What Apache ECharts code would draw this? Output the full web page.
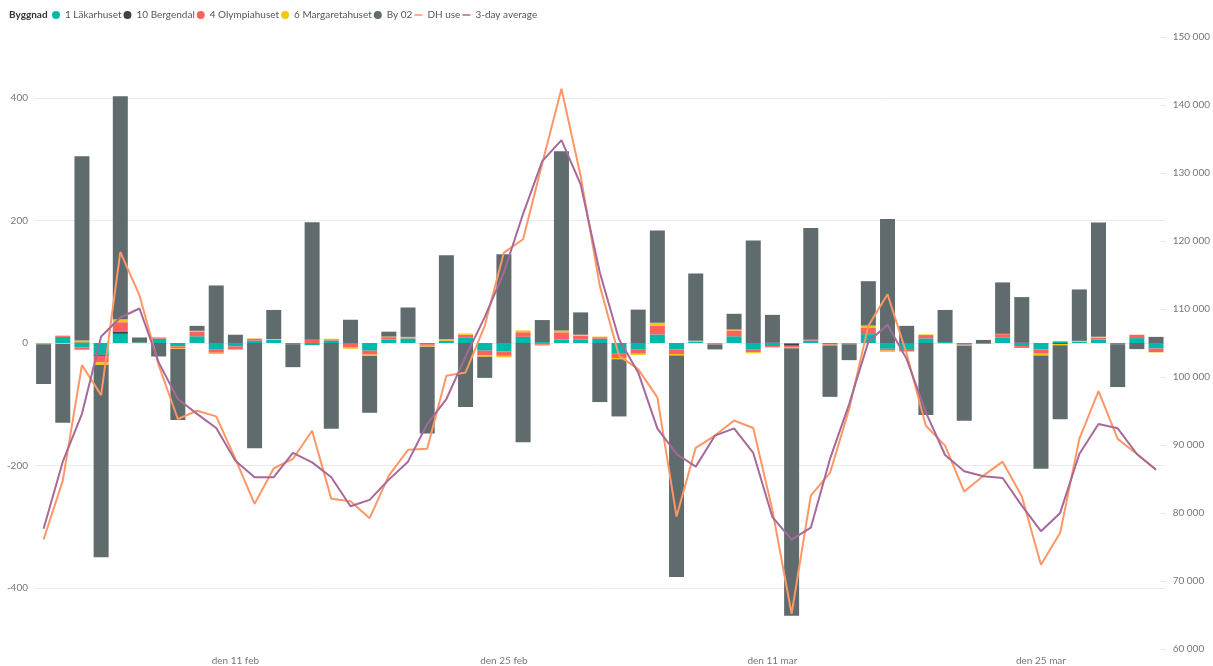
<!DOCTYPE html>
<html>
<head>
<meta charset="utf-8">
<script src="https://cdn.jsdelivr.net/npm/echarts@6/dist/echarts.min.js"></script>
<style>
  html, body { margin: 0; padding: 0; background: #fff; }
  #chart { width: 1213px; height: 666px; }
</style>
</head>
<body>
<div id="chart"></div>
<script>
// days, 1 feb .. 31 mar
var days = [];
[['feb', 28], ['mar', 31]].forEach(function (m) {
    for (var d = 1; d <= m[1]; d++) days.push('den ' + d + ' ' + m[0]);
});
var tickDays = ['den 11 feb', 'den 25 feb', 'den 11 mar', 'den 25 mar'];

var lakarhuset = [-1, 10, -7, -19, 15, 1, 7, -5.5, 11, -11, -5.5, 4, 5, -2, -3.5, 4, -1.5, -12.5, 5.5, 7.5,
    -2, 2.5, 8.5, -12.5, -14, 10, 1.5, 5.5, 6, 7, -16.5, -10, 14, -10.5, 2, -1, 11, -11, -5, -1,
    4, -2, 0, 14.5, -9.5, -9.8, 7.6, 1.5, -2.5, 0, 8.5, -5, -10.3, 2.7, 2, 5.4, -2, 8, -9];
var bergendal = [0, 0, 1, -2, 3, 0, 0, 0, 0, 0, 0, 0, 0, 0, 0, 0, 0, 0, 0, 0,
    0, 1, 0, 0, 0, 0, 0, 0, 0, 0, 0, 0, 0, 0, 0, 0, 0, 0, 1, -3.5,
    0, 0, 0, 0, 0, 0, 0, 0, 0, 0, 0, 1, 0, -1.5, 0, 0, 0, 0, 0];
var olympiahuset = [0, 2, -4, -11, 16, 0, 2, -3.5, 7, -5, -4.5, 3, 0, 0, 5, 2, -6, -6.5, 4, 0.5,
    -2.5, 0.5, 5, -8, -7, 7.6, -3, 12, 6, 2.5, -8, -7.5, 14.5, -7.5, 0.5, -1.5, 9.5, -4, -2, -2,
    1, -1, -1.5, 10, -3, -4, 5.4, 0, -2, -1.5, 6, -3, -7.3, 0, 0.5, 3.3, 0, 5.5, -6];
var margaretahuset = [-1, -1.5, 3, -4, 5, 0, 0.5, -1, 2, -2, -1.5, 0.5, 1.5, 0, 0.5, 1, -2, -2, 1, 2,
    -1.5, 2, 2, -2, -2.5, 3, -1.5, 3, 1.5, 1, -2, -2, 4.5, -2.5, 1, 0, 1.5, -2, 0, -2,
    0.5, -1, -0.5, 4, -2, -1, 1, -1, -0.5, 0, 0.5, 0, -2.7, -2, 1, 1.6, 0, 0, -0.5];
var by02 = [-65, -129, 301, -314, 364, 8, -22, -116, 8, 94, 13.5, -172, 47.5, -37.5, 192, -140, 38, -93, 8, 48,
    -142, 137.5, -104.6, -34.5, 145, -162, 36, 293, 36.5, -96.5, -93.5, 54.5, 151, -362, 110, -8, 25.7, 167.5, 45, -437,
    182.5, -84, -26, 72.5, 202.7, 28, -117.7, 52.5, -122, 5, 84, 74, -185, -121, 84, 186.7, -70, -10, 10];

var dhUse = [76100, 84760, 101750, 97340, 118380, 112000, 101750, 93820, 95040, 94210,
    87950, 81340, 86580, 87950, 92100, 82080, 81730, 79240, 85490, 89290,
    89440, 100180, 100670, 107520, 118300, 120250, 131430, 142380, 129570, 113400,
    103110, 101160, 97000, 79470, 89590, 91390, 93600, 92500, 80400, 65180,
    82560, 85890, 95300, 107520, 112170, 103370, 92840, 89900, 83150, 85490,
    87550, 82470, 72380, 77080, 90900, 97930, 90900, 88680, 86370];
var avg3 = [77670, 87550, 94580, 105960, 108750, 110070, 102150, 96760, 94580, 92500,
    87700, 85260, 85260, 88830, 87450, 85260, 81000, 81930, 84910, 87550,
    93080, 96760, 103000, 108800, 115400, 124000, 131750, 134830, 128330, 115360,
    105560, 100670, 92450, 88680, 86820, 91370, 92450, 88830, 79380, 76090,
    77840, 87950, 96020, 105170, 107670, 102630, 94800, 88530, 86140, 85400,
    85150, 81090, 77330, 80010, 88680, 93080, 92450, 88680, 86370];

var barSeries = [
    ['1 Läkarhuset', lakarhuset, '#01B8AA'],
    ['10 Bergendal', bergendal, '#374649'],
    ['4 Olympiahuset', olympiahuset, '#FD625E'],
    ['6 Margaretahuset', margaretahuset, '#F2C80F'],
    ['By 02', by02, '#5F6B6D']
];
var lineSeries = [
    ['DH use', dhUse, '#FE9666'],
    ['3-day average', avg3, '#A66999']
];

var font = '"Segoe UI", Lato, sans-serif';
var chart = echarts.init(document.getElementById('chart'));

var series = [];
barSeries.forEach(function (b) {
    series.push({
        name: b[0], type: 'bar', stack: 'bygg', data: b[1],
        barWidth: 15, itemStyle: { color: b[2] }
    });
});
lineSeries.forEach(function (l) {
    series.push({
        name: l[0], type: 'line', yAxisIndex: 1, data: l[1],
        symbol: 'none', lineStyle: { color: l[2], width: 2 }, itemStyle: { color: l[2] }, z: 5
    });
});

// short horizontal stroke as legend icon for the lines
var lineIcon = 'path://M0,0H16V3H0Z';
var legendData = barSeries.map(function (b) { return { name: b[0], icon: 'circle' }; })
    .concat(lineSeries.map(function (l) { return { name: l[0], icon: lineIcon }; }));

chart.setOption({
    animation: false,
    textStyle: { fontFamily: font },
    title: {
        text: 'Byggnad', left: 9, top: 10, padding: 0,
        textStyle: { fontSize: 10, fontWeight: 'bold', color: '#333', fontFamily: font }
    },
    legend: {
        data: legendData, left: 52, top: 10, padding: 0,
        itemWidth: 8, itemHeight: 8, itemGap: 2, symbolKeepAspect: true,
        textStyle: { fontSize: 10, color: '#555', fontFamily: font }
    },
    grid: { left: 34, right: 41, top: 37, bottom: 16 },
    xAxis: {
        type: 'category', data: days,
        axisLine: { show: false }, axisTick: { show: false },
        axisLabel: {
            color: '#777', fontSize: 10, margin: 7,
            interval: function (i, v) { return tickDays.indexOf(v) >= 0; }
        }
    },
    yAxis: [{
        type: 'value', min: -500, max: 500, interval: 100,
        axisLine: { show: false }, axisTick: { show: false },
        axisLabel: {
            color: '#777', fontSize: 10, margin: 6,
            formatter: function (v) { return (v % 200 === 0 && Math.abs(v) <= 400) ? String(v) : ''; }
        },
        splitLine: { show: true, showMinLine: true, showMaxLine: true,
            lineStyle: { color: ['rgba(0,0,0,0)', '#ebebeb'], width: 1 } }
    }, {
        type: 'value', min: 60000, max: 150000, interval: 10000, position: 'right',
        axisLine: { show: false },
        axisTick: { show: true, inside: true, length: 5, lineStyle: { color: '#e3e3e3' } },
        axisLabel: {
            color: '#777', fontSize: 10, margin: 7,
            formatter: function (v) { return String(v).replace(/\B(?=(\d{3})+(?!\d))/g, ' '); }
        },
        splitLine: { show: false }
    }],
    series: series
});
</script>
</body>
</html>
